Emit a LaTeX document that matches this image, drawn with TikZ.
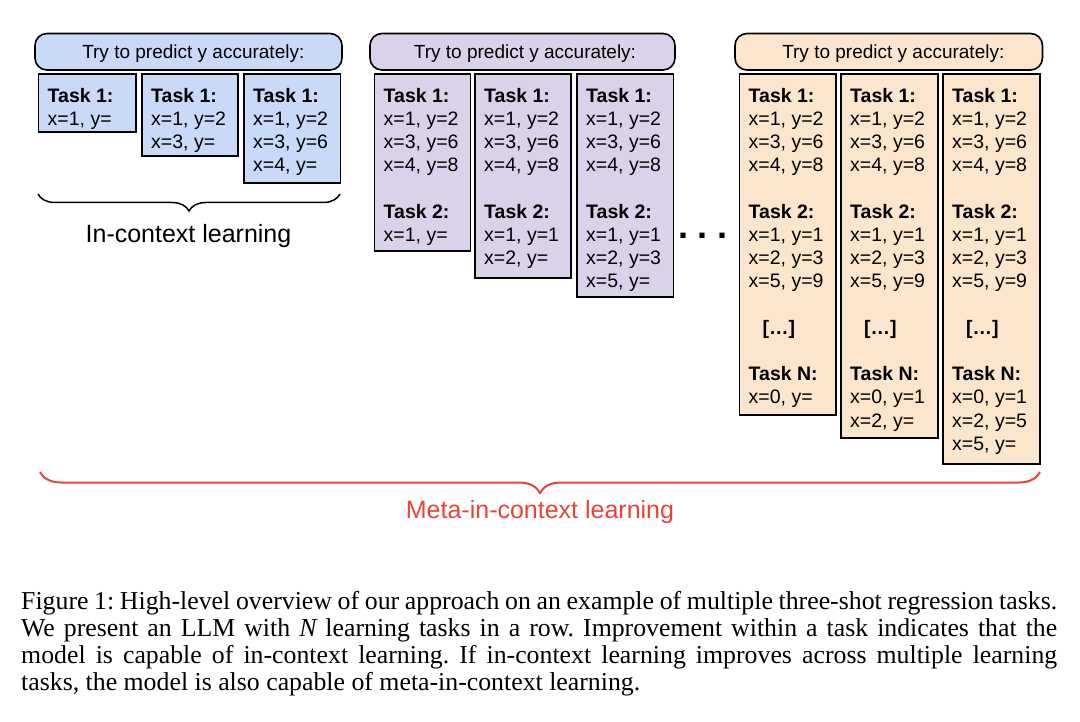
\documentclass[tikz,border=0pt]{standalone}
\usepackage{fontspec}
\setmainfont{Liberation Sans}
\newfontfamily\capfont{Liberation Serif}
\usetikzlibrary{decorations.pathreplacing}
\definecolor{cblue}{RGB}{201,218,248}
\definecolor{cpurple}{RGB}{217,210,233}
\definecolor{corange}{RGB}{252,229,205}
\definecolor{cred}{RGB}{232,67,55}
\frenchspacing
\tikzset{
  hdrshape/.style={draw=black, line width=1.6pt, rounded corners=12pt},
  hdrtext/.style={anchor=base, inner sep=0pt, font=\fontsize{19}{23}\selectfont},
  taskbox/.style={draw=black, line width=1.6pt, anchor=north west, inner sep=0pt},
  tasktext/.style={anchor=north west, inner sep=0pt, align=left, font=\fontsize{19.5}{23.2}\selectfont},
  bracelabel/.style={anchor=base, inner sep=0pt, font=\fontsize{25}{30}\selectfont},
  capline/.style={anchor=base west, inner sep=0pt, font=\capfont\fontsize{25.8}{27.3}\selectfont},
}
\newcommand{\tk}[1]{\textbf{Task #1:}}
\begin{document}
\begin{tikzpicture}[x=1pt,y=-1pt]
\useasboundingbox (0,0) rectangle (1080,722);

% ---------- blue group ----------
\path[hdrshape, fill=cblue] (35,70) -- (35,33.5) -- (342,33.5) -- (342,70) -- cycle;
\node[hdrtext] (h1) at (193.3,58.3) {Try to predict y accurately:};
\node[taskbox, fill=cblue, minimum width=97.5pt, minimum height=57.5pt] (b1) at (37.5,73.5) {};
\node[taskbox, fill=cblue, minimum width=96pt, minimum height=81.5pt] (b2) at (141,73.5) {};
\node[taskbox, fill=cblue, minimum width=96.5pt, minimum height=108.5pt] (b3) at (243,73.5) {};
\node[tasktext] (t1) at (47.5,88) {\tk1\\x=1, y=};
\node[tasktext] (t2) at (151,88) {\tk1\\x=1, y=2\\x=3, y=};
\node[tasktext] (t3) at (253,88) {\tk1\\x=1, y=2\\x=3, y=6\\x=4, y=};

% ---------- purple group ----------
\path[hdrshape, fill=cpurple] (370,70) -- (370,33.5) -- (675,33.5) -- (675,70) -- cycle;
\node[hdrtext] (h2) at (525,58.3) {Try to predict y accurately:};
\node[taskbox, fill=cpurple, minimum width=96pt, minimum height=176.5pt] (p1) at (373.5,73.5) {};
\node[taskbox, fill=cpurple, minimum width=96pt, minimum height=204pt] (p2) at (474,73.5) {};
\node[taskbox, fill=cpurple, minimum width=96.5pt, minimum height=222.5pt] (p3) at (576,73.5) {};
\node[tasktext] (pt1) at (383.5,88) {\tk1\\x=1, y=2\\x=3, y=6\\x=4, y=8\\[23.2pt]\tk2\\x=1, y=};
\node[tasktext] (pt2) at (484,88) {\tk1\\x=1, y=2\\x=3, y=6\\x=4, y=8\\[23.2pt]\tk2\\x=1, y=1\\x=2, y=};
\node[tasktext] (pt3) at (586,88) {\tk1\\x=1, y=2\\x=3, y=6\\x=4, y=8\\[23.2pt]\tk2\\x=1, y=1\\x=2, y=3\\x=5, y=};

% ---------- dots ----------
\node[anchor=base, inner sep=0pt, font=\bfseries\fontsize{36}{40}\selectfont] (dots) at (703,238.5) {. . .};

% ---------- orange group ----------
\path[hdrshape, fill=corange] (735,70) -- (735,33.5) -- (1042.5,33.5) -- (1042.5,70) -- cycle;
\node[hdrtext] (h3) at (893.3,58.3) {Try to predict y accurately:};
\node[taskbox, fill=corange, minimum width=96.5pt, minimum height=340.5pt] (o1) at (738.5,73.5) {};
\node[taskbox, fill=corange, minimum width=97pt, minimum height=363.5pt] (o2) at (840,73.5) {};
\node[taskbox, fill=corange, minimum width=97pt, minimum height=389.5pt] (o3) at (942,73.5) {};
\node[tasktext] (ot1) at (748.5,88) {\tk1\\x=1, y=2\\x=3, y=6\\x=4, y=8\\[23.2pt]\tk2\\x=1, y=1\\x=2, y=3\\x=5, y=9\\[23.2pt]\hspace*{14pt}\textbf{[…]}\\[23.2pt]\tk N\\x=0, y=};
\node[tasktext] (ot2) at (850,88) {\tk1\\x=1, y=2\\x=3, y=6\\x=4, y=8\\[23.2pt]\tk2\\x=1, y=1\\x=2, y=3\\x=5, y=9\\[23.2pt]\hspace*{14pt}\textbf{[…]}\\[23.2pt]\tk N\\x=0, y=1\\x=2, y=};
\node[tasktext] (ot3) at (952,88) {\tk1\\x=1, y=2\\x=3, y=6\\x=4, y=8\\[23.2pt]\tk2\\x=1, y=1\\x=2, y=3\\x=5, y=9\\[23.2pt]\hspace*{14pt}\textbf{[…]}\\[23.2pt]\tk N\\x=0, y=1\\x=2, y=5\\x=5, y=};

% ---------- braces ----------
\coordinate (ibl) at (38,194);
\coordinate (ibr) at (340,194);
\draw[line width=1.5pt, decorate, decoration={brace, amplitude=17pt, mirror}] (ibl) -- (ibr);
\node[bracelabel] (icl) at (188.5,243) {In-context learning};

\coordinate (mbl) at (40,472);
\coordinate (mbr) at (1040,472);
\draw[cred, line width=2pt, decorate, decoration={brace, amplitude=21pt, mirror}] (mbl) -- (mbr);
\node[bracelabel, text=cred] (mcl) at (540,518) {Meta-in-context learning};

% ---------- caption ----------
\node[capline] (c1) at (21,609) {\makebox[1036pt][s]{Figure 1: High-level overview of our approach on an example of multiple three-shot regression tasks.}};
\node[capline] (c2) at (21,636.3) {\makebox[1036pt][s]{We present an LLM with {\itshape N} learning tasks in a row. Improvement within a task indicates that the}};
\node[capline] (c3) at (21,663.6) {\makebox[1036pt][s]{model is capable of in-context learning. If in-context learning improves across multiple learning}};
\node[capline] (c4) at (21,690.9) {tasks, the model is also capable of meta-in-context learning.};
\end{tikzpicture}
\end{document}
